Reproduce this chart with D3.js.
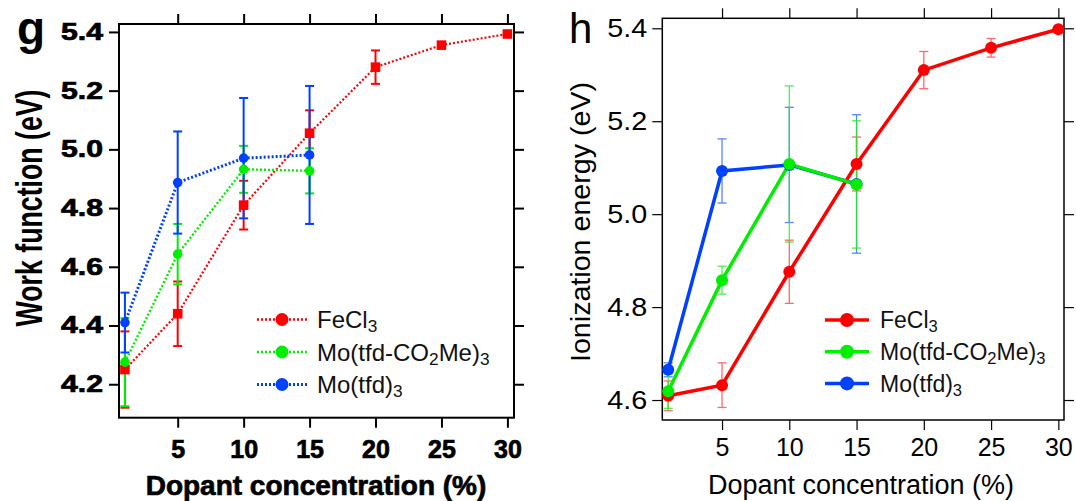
<!DOCTYPE html>
<html>
<head>
<meta charset="utf-8">
<script src="https://d3js.org/d3.v7.min.js"></script>
<style>
  body { margin: 0; background: #fff; }
  svg { display: block; font-family: Arial, "Liberation Sans", sans-serif; }
</style>
</head>
<body>
<div id="chart"></div>
<script>
// dopant concentrations (%)
var feX = [1, 5, 10, 15, 20, 25, 30];
var moX = [1, 5, 10, 15];
var xTicks = [5, 10, 15, 20, 25, 30];

// panel g : work function (eV)
var wfFe = [4.25, 4.44, 4.81, 5.055, 5.28, 5.355, 5.393];
var wfFeErr = [0.13, 0.11, 0.083, 0.078, 0.057, 0.01, 0.006];
var wfCO2Me = [4.275, 4.643, 4.932, 4.927];
var wfCO2MeErr = [0.15, 0.103, 0.08, 0.077];
var wfMo = [4.41, 4.887, 4.97, 4.981];
var wfMoErr = [0.102, 0.174, 0.205, 0.235];
var wfTicks = [4.2, 4.4, 4.6, 4.8, 5.0, 5.2, 5.4];

// panel h : ionization energy (eV)
var ieFe = [4.609, 4.632, 4.876, 5.108, 5.31, 5.358, 5.398];
var ieFeErr = [0.032, 0.048, 0.068, 0.058, 0.04, 0.02, 0.006];
var ieCO2Me = [4.619, 4.858, 5.108, 5.064];
var ieCO2MeErr = [0.037, 0.03, 0.168, 0.137];
var ieMo = [4.665, 5.093, 5.106, 5.065];
var ieMoErr = [0.015, 0.069, 0.124, 0.149];
var ieTicks = [4.6, 4.8, 5.0, 5.2, 5.4];

// legend labels, split in normal / subscript parts
var labelFe = ['FeCl', '3'];
var labelCO2Me = ['Mo(tfd-CO', '2', 'Me)', '3'];
var labelMo = ['Mo(tfd)', '3'];

var red = '#ff0000', green = '#00ee00', blue = '#0040ff';

var svg = d3.select('#chart').append('svg')
  .attr('width', 1076)
  .attr('height', 501);

function makeSeries(xs, ys, es) {
  return xs.map(function(d, i) { return { x: d, y: ys[i], e: es[i] }; });
}

function drawPanel(p) {
  var g = svg.append('g');
  var x = d3.scaleLinear().domain(p.xDomain).range([p.left, p.right]);
  var y = d3.scaleLinear().domain(p.yDomain).range([p.bottom, p.top]);

  // axes (outward ticks on all four sides)
  var bottom = g.append('g')
    .attr('transform', 'translate(0,' + p.bottom + ')')
    .call(d3.axisBottom(x).tickValues(xTicks).tickSize(p.tick).tickPadding(p.xPad).tickFormat(d3.format('d')));
  var top = g.append('g')
    .attr('transform', 'translate(0,' + p.top + ')')
    .call(d3.axisTop(x).tickValues(xTicks).tickSize(p.tick).tickFormat(''));
  var left = g.append('g')
    .attr('transform', 'translate(' + p.left + ',0)')
    .call(d3.axisLeft(y).tickValues(p.yTicks).tickSize(p.tick).tickPadding(p.yPad).tickFormat(d3.format('.1f')));
  var right = g.append('g')
    .attr('transform', 'translate(' + p.right + ',0)')
    .call(d3.axisRight(y).tickValues(p.yTicks).tickSize(p.tick).tickFormat(''));

  [bottom, top, left, right].forEach(function(a) {
    a.select('.domain').remove();
    a.selectAll('line').attr('stroke', '#000').attr('stroke-width', p.tickWidth);
    a.attr('font-family', null).attr('font-size', null);
  });
  bottom.selectAll('text')
    .attr('font-size', p.xTickFont).attr('font-weight', p.weight)
    .attr('fill', '#000').attr('stroke', p.textStroke).attr('stroke-width', p.textStrokeW);
  left.selectAll('text')
    .attr('font-size', p.yTickFont).attr('font-weight', p.weight)
    .attr('fill', '#000').attr('stroke', p.textStroke).attr('stroke-width', p.textStrokeW)
    .attr('textLength', p.yTickLen).attr('lengthAdjust', 'spacingAndGlyphs');

  g.append('rect')
    .attr('x', p.left).attr('y', p.top)
    .attr('width', p.right - p.left).attr('height', p.bottom - p.top)
    .attr('fill', 'none').attr('stroke', '#000').attr('stroke-width', p.frameWidth);

  // error bars
  p.series.forEach(function(s) {
    var eb = g.append('g')
      .attr('stroke', s.errColor || s.color)
      .attr('stroke-width', p.errWidth)
      .attr('opacity', p.errOpacity);
    s.data.forEach(function(d) {
      var y0 = y(d.y - d.e), y1 = y(d.y + d.e), cx = x(d.x);
      eb.append('line').attr('x1', cx).attr('x2', cx).attr('y1', y0).attr('y2', y1);
      eb.append('line').attr('x1', cx - p.cap).attr('x2', cx + p.cap).attr('y1', y0).attr('y2', y0);
      eb.append('line').attr('x1', cx - p.cap).attr('x2', cx + p.cap).attr('y1', y1).attr('y2', y1);
    });
  });

  var line = d3.line().x(function(d) { return x(d.x); }).y(function(d) { return y(d.y); });
  p.series.forEach(function(s) {
    g.append('path')
      .datum(s.data)
      .attr('d', line)
      .attr('fill', 'none')
      .attr('stroke', s.color)
      .attr('stroke-width', s.lineWidth)
      .attr('stroke-dasharray', p.dash);
  });
  p.series.forEach(function(s) {
    if (s.square) {
      g.selectAll(null).data(s.data).enter().append('rect')
        .attr('x', function(d) { return x(d.x) - p.markerR; })
        .attr('y', function(d) { return y(d.y) - p.markerR; })
        .attr('width', p.markerR * 2).attr('height', p.markerR * 2)
        .attr('fill', s.color);
    } else {
      g.selectAll(null).data(s.data).enter().append('circle')
        .attr('cx', function(d) { return x(d.x); })
        .attr('cy', function(d) { return y(d.y); })
        .attr('r', p.markerR)
        .attr('fill', s.color);
    }
  });

  // legend
  p.legend.forEach(function(s, i) {
    var ly = p.legY + i * p.legGap;
    g.append('line')
      .attr('x1', p.legX1).attr('x2', p.legX2).attr('y1', ly).attr('y2', ly)
      .attr('stroke', s.color).attr('stroke-width', s.lineWidth)
      .attr('stroke-dasharray', p.dash);
    g.append('circle')
      .attr('cx', (p.legX1 + p.legX2) / 2).attr('cy', ly).attr('r', p.legR)
      .attr('fill', s.color);
    var t = g.append('text')
      .attr('x', p.legText).attr('y', ly + p.legFont * 0.36)
      .attr('font-size', p.legFont).attr('fill', '#111');
    s.label.forEach(function(part, k) {
      var ts = t.append('tspan').text(part);
      if (k % 2 == 1) ts.attr('font-size', p.legFont * 0.72).attr('baseline-shift', '-25%');
    });
  });

  // titles
  g.append('text')
    .attr('x', (p.titleX)).attr('y', p.xTitleY)
    .attr('text-anchor', 'middle')
    .attr('font-size', p.xTitleFont).attr('font-weight', p.weight)
    .attr('stroke', p.textStroke).attr('stroke-width', p.textStrokeW)
    .text('Dopant concentration (%)');
  g.append('text')
    .attr('transform', 'translate(' + p.yTitleX + ',' + p.yTitleY + ') rotate(-90)')
    .attr('text-anchor', 'middle')
    .attr('font-size', p.yTitleFont).attr('font-weight', p.yTitleWeight)
    .attr('textLength', p.yTitleLen).attr('lengthAdjust', 'spacingAndGlyphs')
    .text(p.yTitle);
  g.append('text')
    .attr('x', p.tagX).attr('y', p.tagY)
    .attr('font-size', p.tagFont).attr('font-weight', p.weight)
    .text(p.tag);
}

var serG = [
  { color: red, lineWidth: 2.2, square: true, data: makeSeries(feX, wfFe, wfFeErr) },
  { color: green, lineWidth: 2.4, data: makeSeries(moX, wfCO2Me, wfCO2MeErr) },
  { color: blue, lineWidth: 3, data: makeSeries(moX, wfMo, wfMoErr) }
];
drawPanel({
  left: 119, right: 514, top: 24, bottom: 417.7,
  xDomain: [0.55, 30.5], yDomain: [4.086, 5.427], yTicks: wfTicks,
  tick: 10, tickWidth: 2, xPad: 13, yPad: 6, frameWidth: 2,
  weight: 'bold', textStroke: '#000', textStrokeW: 0.7,
  xTickFont: 25, yTickFont: 23, yTickLen: 42,
  errWidth: 2, errOpacity: 1, cap: 4.5, dash: '2,2', markerR: 4.8,
  series: serG,
  legend: [
    { color: red, lineWidth: 2.4, label: labelFe },
    { color: green, lineWidth: 2.4, label: labelCO2Me },
    { color: blue, lineWidth: 3, label: labelMo }
  ],
  legX1: 257, legX2: 307, legY: 319.5, legGap: 32.5, legR: 6.5, legText: 317, legFont: 24,
  titleX: 316, xTitleY: 495, xTitleFont: 28,
  yTitle: 'Work function (eV)', yTitleX: 42, yTitleY: 208, yTitleFont: 36, yTitleWeight: 'bold', yTitleLen: 237,
  tag: 'g', tagX: 17, tagY: 44, tagFont: 46
});

var serH = [
  { color: blue, errColor: '#3366ff', lineWidth: 3.5, data: makeSeries(moX, ieMo, ieMoErr) },
  { color: red, errColor: '#ff4444', lineWidth: 3.5, data: makeSeries(feX, ieFe, ieFeErr) },
  { color: green, errColor: '#22ee22', lineWidth: 3.5, data: makeSeries(moX, ieCO2Me, ieCO2MeErr) }
];
drawPanel({
  left: 662.3, right: 1064, top: 18.3, bottom: 420,
  xDomain: [0.56, 30.42], yDomain: [4.557, 5.4215], yTicks: ieTicks,
  tick: 10, tickWidth: 1.2, xPad: 8, yPad: 5, frameWidth: 1.5,
  weight: 'normal', textStroke: 'none', textStrokeW: 0,
  xTickFont: 25, yTickFont: 25, yTickLen: 40,
  errWidth: 1.3, errOpacity: 0.8, cap: 4.5, dash: null, markerR: 6,
  series: serH,
  legend: [
    { color: red, lineWidth: 3.5, label: labelFe },
    { color: green, lineWidth: 3.5, label: labelCO2Me },
    { color: blue, lineWidth: 3.5, label: labelMo }
  ],
  legX1: 825, legX2: 869, legY: 320, legGap: 31.7, legR: 7, legText: 880, legFont: 23,
  titleX: 861, xTitleY: 494, xTitleFont: 27,
  yTitle: 'Ionization energy (eV)', yTitleX: 590, yTitleY: 222, yTitleFont: 28, yTitleWeight: 'normal', yTitleLen: 280,
  tag: 'h', tagX: 569, tagY: 43, tagFont: 42
});
</script>
</body>
</html>
